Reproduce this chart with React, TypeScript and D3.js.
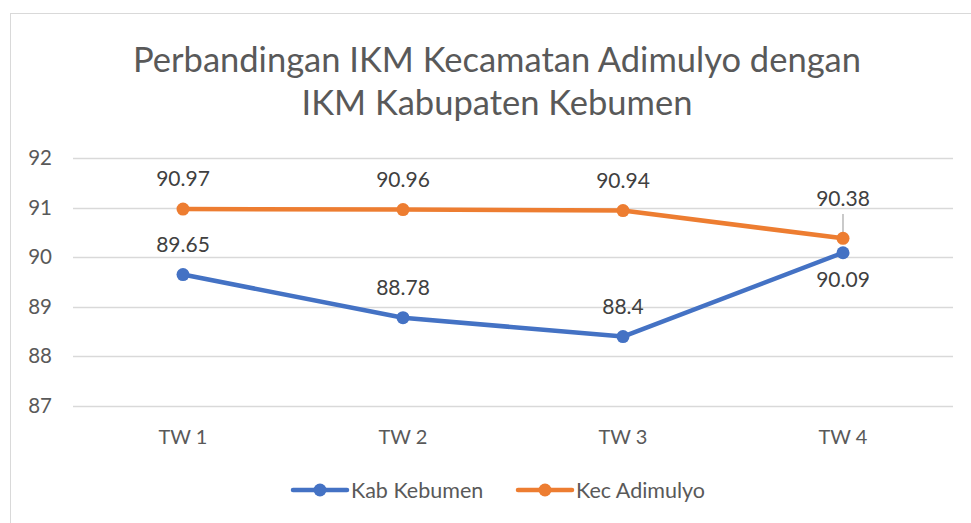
import { useEffect, useRef } from 'react';
import * as d3 from 'd3';

const categories = ['TW 1', 'TW 2', 'TW 3', 'TW 4'];
const kabKebumen = [89.65, 88.78, 88.4, 90.09];
const kecAdimulyo = [90.97, 90.96, 90.94, 90.38];
const yTicks = [87, 88, 89, 90, 91, 92];
const titleLines = ['Perbandingan IKM Kecamatan Adimulyo dengan', 'IKM Kabupaten Kebumen'];

const W = 971;
const H = 523;
const FONT = 'Lato, "Open Sans", sans-serif';
const TEXT = '#595959';

export default function App() {
  const svgRef = useRef<SVGSVGElement>(null);

  useEffect(() => {
    if (!svgRef.current) return;
    const svg = d3.select(svgRef.current);
    svg.selectAll('*').remove();

    // chart frame (only left/top edges fall inside the picture)
    svg.append('rect')
      .attr('x', 10.5).attr('y', 13.5)
      .attr('width', W + 20).attr('height', H + 20)
      .attr('fill', 'white').attr('stroke', '#d9d9d9').attr('stroke-width', 1);

    // Title
    svg.append('g').selectAll('text')
      .data(titleLines)
      .enter().append('text')
      .attr('x', 497)
      .attr('y', (d, i) => 72 + i * 43)
      .attr('text-anchor', 'middle')
      .style('font-family', FONT)
      .style('font-size', '34.5px')
      .attr('fill', TEXT)
      .text(d => d);

    const xScale = d3.scaleBand<string>()
      .domain(categories)
      .range([73, 953]);

    const yScale = d3.scaleLinear()
      .domain([87, 92])
      .range([406, 158]);

    const cx = (c: string) => (xScale(c) || 0) + xScale.bandwidth() / 2;

    // Gridlines
    svg.append('g').selectAll('line')
      .data(yTicks)
      .enter().append('line')
      .attr('x1', 73).attr('x2', 953)
      .attr('y1', d => Math.round(yScale(d)) + 0.5)
      .attr('y2', d => Math.round(yScale(d)) + 0.5)
      .attr('stroke', '#d9d9d9').attr('stroke-width', 1.5);

    // Y labels
    svg.append('g').selectAll('text')
      .data(yTicks)
      .enter().append('text')
      .attr('x', 52)
      .attr('y', d => yScale(d) + 7)
      .attr('text-anchor', 'end')
      .style('font-family', FONT)
      .style('font-size', '20.5px')
      .attr('fill', TEXT)
      .text(d => d);

    // X labels
    svg.append('g').selectAll('text')
      .data(categories)
      .enter().append('text')
      .attr('x', d => cx(d))
      .attr('y', 444)
      .attr('text-anchor', 'middle')
      .style('font-family', FONT)
      .style('font-size', '20px')
      .attr('fill', TEXT)
      .text(d => d);

    const series = [
      { name: 'Kab Kebumen', values: kabKebumen, color: '#4472C4', below: [false, false, false, true] },
      { name: 'Kec Adimulyo', values: kecAdimulyo, color: '#ED7D31', below: [false, false, false, false] },
    ];

    const line = d3.line<number>()
      .x((d, i) => cx(categories[i]))
      .y(d => yScale(d));

    // leader line for TW 4 orange label
    svg.append('line')
      .attr('x1', cx('TW 4')).attr('x2', cx('TW 4'))
      .attr('y1', 214).attr('y2', yScale(kecAdimulyo[3]) - 4)
      .attr('stroke', '#a6a6a6').attr('stroke-width', 1.2);

    series.forEach(s => {
      svg.append('path')
        .datum(s.values)
        .attr('fill', 'none')
        .attr('stroke', s.color)
        .attr('stroke-width', 4.5)
        .attr('stroke-linejoin', 'round')
        .attr('d', line);

      svg.append('g').selectAll('circle')
        .data(s.values)
        .enter().append('circle')
        .attr('cx', (d, i) => cx(categories[i]))
        .attr('cy', d => yScale(d))
        .attr('r', 6.5)
        .attr('fill', s.color);

      svg.append('g').selectAll('text')
        .data(s.values)
        .enter().append('text')
        .attr('x', (d, i) => cx(categories[i]))
        .attr('y', (d, i) => {
          if (s.below[i]) return yScale(d) + 34;
          if (s.name === 'Kec Adimulyo' && i === 3) return 206;
          return yScale(d) - 23;
        })
        .attr('text-anchor', 'middle')
        .style('font-family', FONT)
        .style('font-size', '21px')
        .attr('fill', '#404040')
        .text(d => d);
    });

    // Legend
    const legendX = [293, 518];
    series.forEach((s, i) => {
      const lg = svg.append('g').attr('transform', `translate(${legendX[i]}, 490)`);
      lg.append('line')
        .attr('x1', 0).attr('x2', 54)
        .attr('stroke', s.color).attr('stroke-width', 4.5)
        .attr('stroke-linecap', 'round');
      lg.append('circle').attr('cx', 27).attr('r', 6.5).attr('fill', s.color);
      lg.append('text')
        .attr('x', 58).attr('y', 7.5)
        .style('font-family', FONT)
        .style('font-size', '21.5px')
        .attr('fill', TEXT)
        .text(s.name);
    });
  }, []);

  return (
    <svg ref={svgRef} width={W} height={H}
      style={{ position: 'absolute', left: 0, top: 0, background: 'white' }} />
  );
}
